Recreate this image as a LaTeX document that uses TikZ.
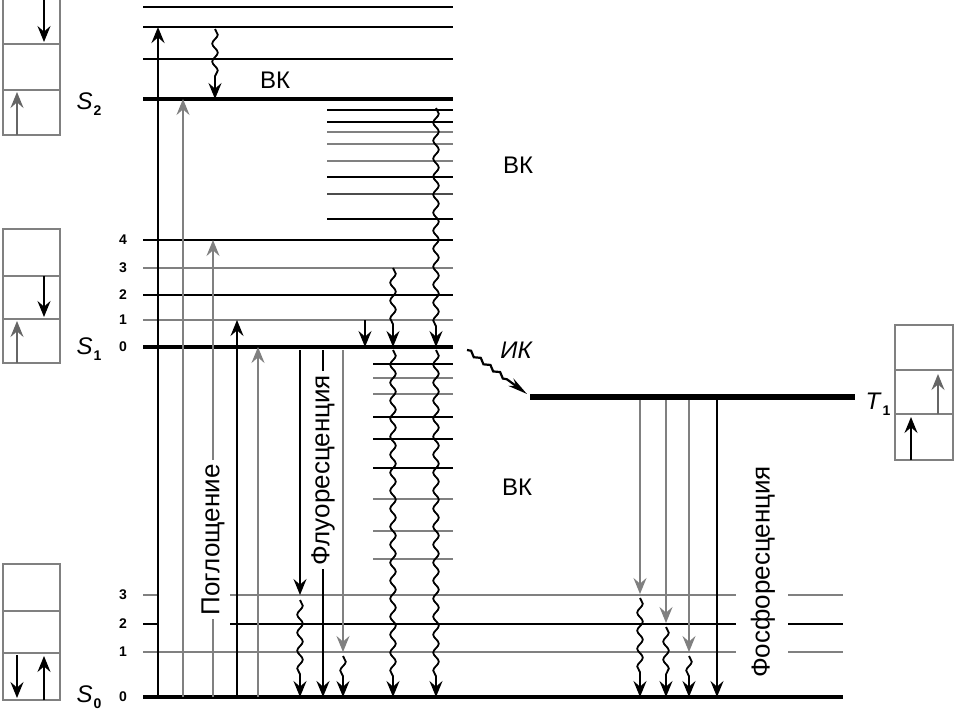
\documentclass[tikz,border=0pt]{standalone}
\usepackage{fontspec}
\setmainfont{Liberation Sans}
\usetikzlibrary{arrows.meta,decorations.pathmorphing}

\newcommand{\statelbl}[2]{\textit{#1}\kern0.5pt\raisebox{-0.5ex}{\fontsize{7}{8}\selectfont\bfseries #2}}

\begin{document}
\begin{tikzpicture}[x=0.5pt,y=-0.5pt,font=\fontsize{12}{14}\selectfont]

    \tikzstyle{lvl} = [line width=1pt];
    \tikzstyle{main lvl} = [line width=2.2pt];
    \tikzstyle{arr} = [line width=0.9pt, -{Stealth[length=8pt,width=6.5pt,inset=2.8pt]}];
    \tikzstyle{wavy arr} = [arr, decorate,
        decoration={snake, amplitude=1.4pt, segment length=9pt, post length=8pt}];
    \tikzstyle{spinbox} = [draw=black!50, line width=0.8pt];
    \tikzstyle{vnum} = [font=\fontsize{7}{8}\selectfont\bfseries, anchor=east];
    \tikzstyle{side label} = [fill=white, rotate=90, inner sep=2pt, font=\fontsize{13}{15}\selectfont];

    \useasboundingbox (0,0) rectangle (975,713);

    % S2 manifold
    \foreach \y in {7,27,59}
        \draw[lvl] (143,\y) -- (453,\y);
    \draw[main lvl] (143,99) -- (453,99);
    \foreach \y/\c in {110/black,122/black,132/black!50,144/black!50,
                       161/black!50,177/black,194/black!70}
        \draw[lvl, \c] (327,\y) -- (453,\y);
    \draw[lvl, line width=1.4pt] (327,219) -- (453,219);

    % S1 manifold
    \foreach \y/\n/\c in {240/4/black,268/3/black!50,295/2/black,320/1/black!50} {
        \draw[lvl, \c] (143,\y) -- (453,\y);
        \node[vnum] (s1v\n) at (134,\y) {\n};
    }
    \draw[main lvl] (143,347) -- (453,347);
    \node[vnum] (s1v0) at (134,347) {0};
    \foreach \y/\c in {364/black,378/black!50,394/black!50,417/black,439/black,
                       468/black,499/black!50,531/black!50,559/black!50}
        \draw[lvl, \c] (373,\y) -- (453,\y);

    % S0 manifold
    \foreach \y/\n/\c in {595/3/black!50,624/2/black} {
        \draw[lvl, \c] (143,\y) -- (157,\y) (230,\y) -- (736,\y) (788,\y) -- (843,\y);
        \node[vnum] (s0v\n) at (134,\y) {\n};
    }
    \draw[lvl, black!50] (143,652) -- (736,652) (788,652) -- (843,652);
    \node[vnum] (s0v1) at (134,652) {1};
    \draw[main lvl] (143,697) -- (843,697);
    \node[vnum] (s0v0) at (134,697) {0};

    % T1
    \draw[main lvl, line width=2.6pt] (530,397) -- (855,397);

    % absorption
    \draw[arr, line width=1.4pt] (158,697) -- (158,27);
    \draw[arr, black!50] (183,697) -- (183,99);
    \draw[arr, black!50] (213,697) -- node[side label, pos=0.344, text=black] (absorb) {Поглощение} (213,240);
    \draw[arr] (237,697) -- (237,320);
    \draw[arr, black!50] (258,697) -- (258,347);

    % fluorescence
    \draw[arr] (300,350) -- (300,595);
    \draw[wavy arr] (300,600) -- (300,697);
    \draw[arr, line width=1.4pt] (323,350) -- node[side label, pos=0.346] (fluor) {Флуоресценция} (323,697);
    \draw[arr, black!50] (343,350) -- (343,652);
    \draw[wavy arr] (343,656) -- (343,697);

    % relaxation
    \draw[wavy arr] (215,29) -- (215,99);
    \draw[arr] (365,320) -- (365,347);
    \draw[wavy arr] (393,268) -- (393,347);
    \draw[wavy arr] (393,350) -- (393,697);
    \draw[wavy arr] (436,108) -- (436,347);
    \draw[wavy arr] (436,350) -- (436,697);

    % intersystem crossing
    \draw[line width=1.1pt, -{Stealth[length=10pt,width=4.5pt]}, decorate,
          decoration={snake, amplitude=0.9pt, segment length=6pt, post length=10pt}]
          (467,350) -- (527,394);
    \node[font=\fontsize{12}{14}\selectfont\itshape] (ik) at (516,350) {ИК};

    % phosphorescence
    \draw[arr, black!50] (640,400) -- (640,594);
    \draw[wavy arr] (640,598) -- (640,697);
    \draw[arr, black!50] (666,400) -- (666,623);
    \draw[wavy arr] (666,627) -- (666,697);
    \draw[arr, black!50] (689,400) -- (689,652);
    \draw[wavy arr] (689,656) -- (689,697);
    \draw[arr] (717,400) -- (717,697);
    \node[side label] (phos) at (763,572) {Фосфоресценция};

    % labels
    \node (vk1) at (275,80) {ВК};
    \node (vk2) at (518,165) {ВК};
    \node (vk3) at (517,487) {ВК};
    \node (s2) at (89,104) {\statelbl{S}{2}};
    \node (s1) at (89,349) {\statelbl{S}{1}};
    \node (s0) at (89,697) {\statelbl{S}{0}};
    \node (t1) at (878,404) {\statelbl{T}{1}};

    % S2 spin box
    \draw[spinbox] (3,-3) rectangle (60,135) (3,44) -- (60,44) (3,90) -- (60,90);
    \draw[arr] (44,0) -- (44,42);
    \draw[arr, black!60] (17,135) -- (17,92);

    % S1 spin box
    \draw[spinbox] (3,229) rectangle (60,363) (3,276) -- (60,276) (3,319) -- (60,319);
    \draw[arr] (44,276) -- (44,317);
    \draw[arr, black!60] (17,363) -- (17,321);

    % S0 spin box
    \draw[spinbox] (3,564) rectangle (60,700) (3,611) -- (60,611) (3,653) -- (60,653);
    \draw[arr] (17,655) -- (17,698);
    \draw[arr] (44,700) -- (44,656);

    % T1 spin box
    \draw[spinbox] (895,325) rectangle (953,460) (895,370) -- (953,370) (895,414) -- (953,414);
    \draw[arr, black!60] (938,414) -- (938,374);
    \draw[arr] (911,460) -- (911,417);

\end{tikzpicture}
\end{document}
